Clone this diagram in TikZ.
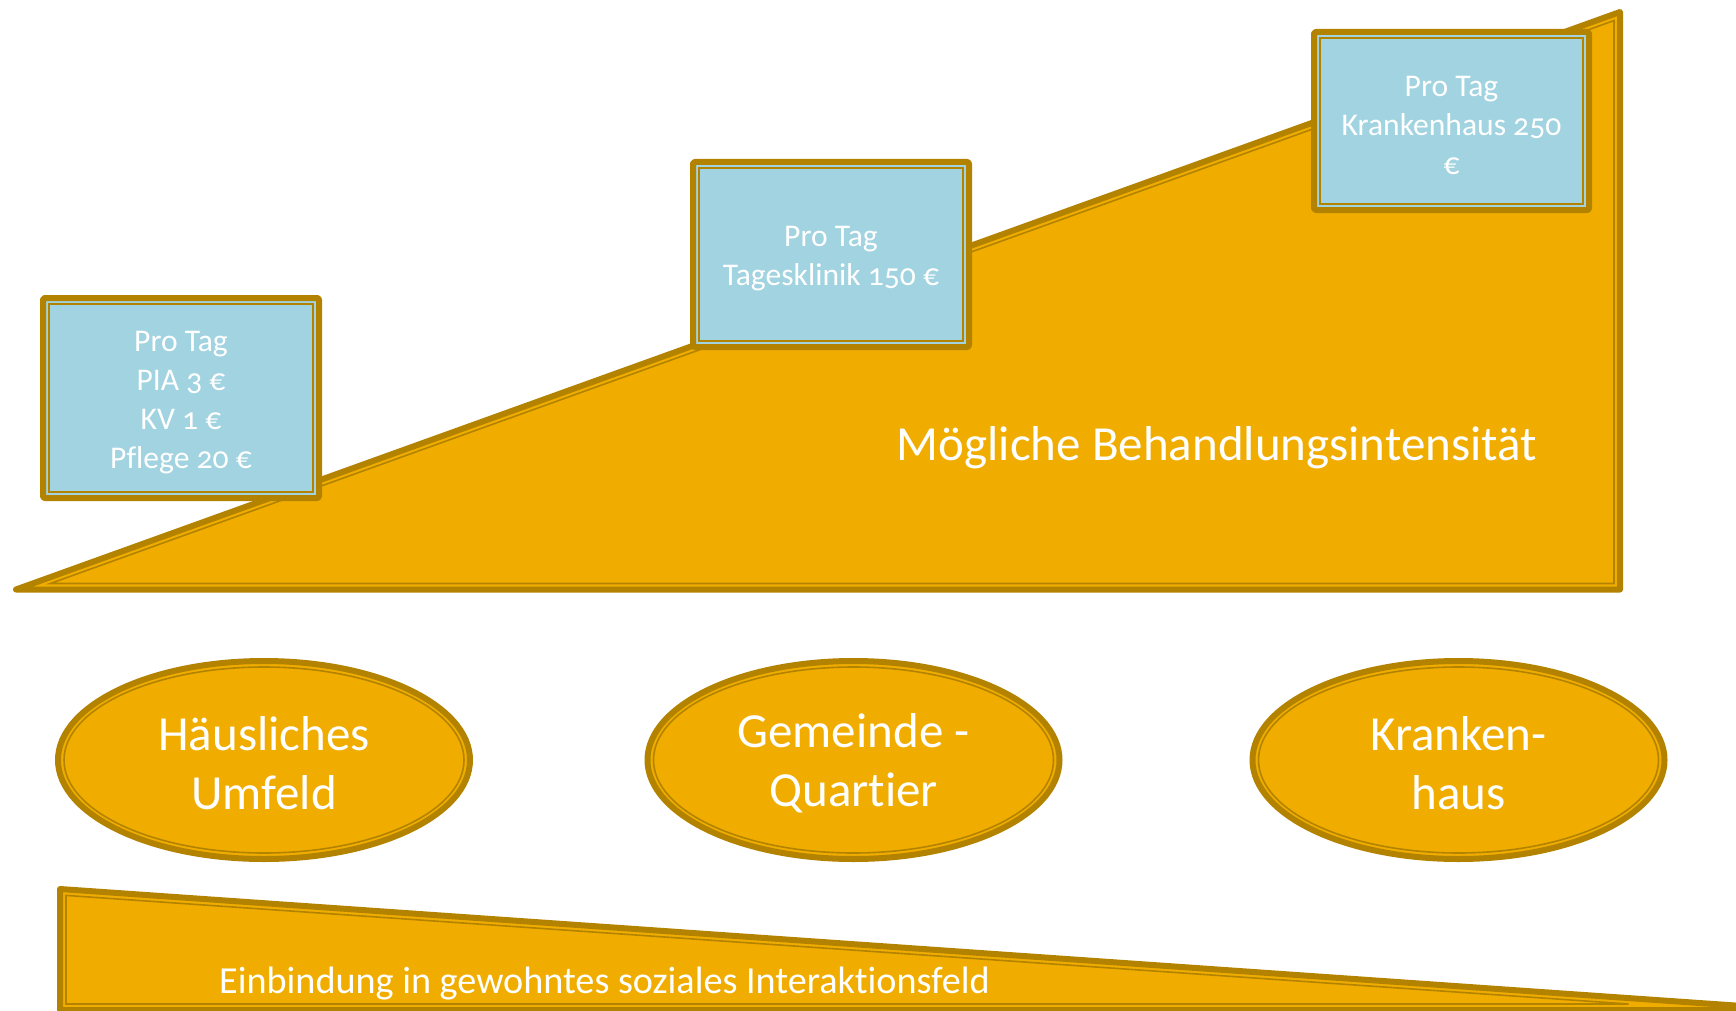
\documentclass[tikz,border=0pt]{standalone}
\usepackage{fontspec}
\setmainfont{Carlito}[Numbers=OldStyle, Ligatures=NoCommon]
\usetikzlibrary{shapes.geometric}
\definecolor{gold}{HTML}{F0AD00}
\definecolor{rim}{HTML}{B38300}
\definecolor{paleblue}{HTML}{A1D3E0}
\begin{document}
\begin{tikzpicture}[x=1pt,y=-1pt,
  outerrim/.style={draw=rim, line width=6pt, line join=round},
  innerrim/.style={draw=rim, line width=1.6pt},
  pricebox/.style={rectangle, outerrim, fill=paleblue, rounded corners=2pt,
    outer sep=0pt, inner sep=0pt},
  pricetext/.style={text=white, align=center, inner sep=0pt,
    font=\fontsize{31.6}{39}\selectfont},
  place/.style={ellipse, outerrim, fill=gold, outer sep=0pt, inner sep=0pt,
    minimum width=412pt, minimum height=198pt},
  placetext/.style={text=white, align=center, inner sep=0pt,
    font=\fontsize{49}{59}\selectfont},
  caption/.style={text=white, inner sep=0pt},
]
\useasboundingbox (0,0) rectangle (1736,1011);
\begin{scope}
\clip (0,0) rectangle (1736,1011);

% rising wedge: possible treatment intensity
\filldraw[outerrim, fill=gold] (16,589.5) -- (1620,589.5) -- (1620,12) -- cycle;
\draw[innerrim, line join=miter] (50.4,583.5) -- (1614,583.5) -- (1614,20.55) -- cycle;
\node[caption, anchor=base, font=\fontsize{49}{59}\selectfont] (intensity)
  at (1217,460) {Mögliche Behandlungsintensität};

% daily cost boxes
\node[pricebox, minimum width=276pt, minimum height=200pt] (pia) at (181,398) {};
\node[pricebox, minimum width=276pt, minimum height=185pt] (dayclinic) at (831,254.5) {};
\node[pricebox, minimum width=275pt, minimum height=178pt] (hospitalcost) at (1451.5,121) {};
\foreach \b in {pia,dayclinic,hospitalcost}
  \draw[innerrim] ([shift={(6,6)}]\b.north west) rectangle ([shift={(-6,-6)}]\b.south east);
\node[pricetext] (piatext) at ([yshift=-5pt]pia.center)
  {Pro Tag\\PIA 3 €\\KV 1 €\\Pflege 20 €};
\node[pricetext] (dayclinictext) at ([yshift=-4pt]dayclinic.center)
  {Pro Tag\\Tagesklinik 150 €};
\node[pricetext] (hospitalcosttext) at ([yshift=-4pt]hospitalcost.center)
  {Pro Tag\\Krankenhaus 250\\€};

% settings
\node[place] (home) at (264,760) {};
\node[place] (community) at (853.5,760) {};
\node[place] (hospital) at (1458.5,760) {};
\foreach \e in {home,community,hospital}
  \draw[innerrim] (\e.center) ellipse [x radius=200pt, y radius=93pt];
\node[placetext] (hometext) at ([yshift=-3.5pt]home.center) {Häusliches\\Umfeld};
\node[placetext] (communitytext) at ([yshift=-3.5pt]community.center) {Gemeinde -\\Quartier};
\node[placetext] (hospitaltext) at ([yshift=-3.5pt]hospital.center) {Kranken-\\haus};

% falling wedge: social integration
\filldraw[outerrim, fill=gold] (60,889) -- (1800,1010) -- (60,1010) -- cycle;
\draw[innerrim, line join=miter] (66,895.4) -- (1628.6,1004) -- (66,1004) -- cycle;
\node[caption, anchor=base west, font=\fontsize{38.2}{46}\selectfont] (integration)
  at (219,993) {Einbindung in gewohntes soziales Interaktionsfeld};
\end{scope}
\end{tikzpicture}
\end{document}
